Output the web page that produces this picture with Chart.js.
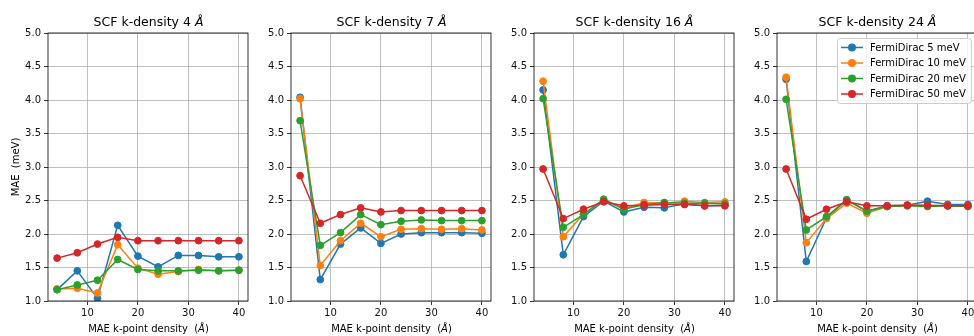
<!DOCTYPE html>
<html>
<head>
<meta charset="utf-8">
<script src="https://cdn.jsdelivr.net/npm/chart.js@4"></script>
<style>
body { margin: 0; background: #fff; font-family: "DejaVu Sans", sans-serif; }
#fig { position: relative; width: 974px; height: 336px; overflow: hidden; }
.panel { position: absolute; top: 0; width: 245px; height: 336px; }
.title { position: absolute; top: 14px; width: 201px; text-align: center; font-size: 12.5px; line-height: 16px; color: #000; white-space: nowrap; }
.xlab { position: absolute; top: 322px; width: 201px; text-align: center; font-size: 10px; line-height: 14px; color: #000; white-space: nowrap; }
#ylab { position: absolute; left: -34px; top: 160px; width: 100px; height: 14px; line-height: 14px; text-align: center; transform: rotate(-90deg); font-size: 10px; color: #000; white-space: nowrap; }
</style>
</head>
<body>
<div id="fig"></div>
<script>
// x positions (MAE k-point density) shared by every panel
const kDensity = [4, 8, 12, 16, 20, 24, 28, 32, 36, 40];
const xTicks = [10, 20, 30, 40];
const smearLabels = ['FermiDirac 5 meV', 'FermiDirac 10 meV', 'FermiDirac 20 meV', 'FermiDirac 50 meV'];
const scfDensities = ['4', '7', '16', '24'];
const colors = ['#1f77b4', '#ff7f0e', '#2ca02c', '#d62728'];

// SCF k-density 4
const scf4_fd5  = [1.17, 1.45, 1.04, 2.13, 1.67, 1.51, 1.68, 1.68, 1.66, 1.66];
const scf4_fd10 = [1.18, 1.19, 1.12, 1.84, 1.49, 1.40, 1.44, 1.47, 1.45, 1.46];
const scf4_fd20 = [1.17, 1.24, 1.31, 1.62, 1.47, 1.45, 1.45, 1.46, 1.45, 1.46];
const scf4_fd50 = [1.64, 1.72, 1.85, 1.95, 1.90, 1.90, 1.90, 1.90, 1.90, 1.90];
// SCF k-density 7
const scf7_fd5  = [4.04, 1.32, 1.85, 2.09, 1.86, 2.00, 2.02, 2.02, 2.02, 2.01];
const scf7_fd10 = [4.02, 1.53, 1.90, 2.16, 1.96, 2.07, 2.08, 2.07, 2.08, 2.06];
const scf7_fd20 = [3.69, 1.83, 2.02, 2.29, 2.14, 2.19, 2.21, 2.20, 2.20, 2.20];
const scf7_fd50 = [2.87, 2.16, 2.29, 2.39, 2.33, 2.35, 2.35, 2.35, 2.35, 2.35];
// SCF k-density 16
const scf16_fd5  = [4.15, 1.69, 2.26, 2.49, 2.33, 2.40, 2.39, 2.45, 2.42, 2.43];
const scf16_fd10 = [4.28, 1.96, 2.30, 2.50, 2.38, 2.47, 2.46, 2.49, 2.47, 2.48];
const scf16_fd20 = [4.02, 2.10, 2.29, 2.52, 2.37, 2.44, 2.47, 2.46, 2.46, 2.45];
const scf16_fd50 = [2.97, 2.23, 2.37, 2.48, 2.42, 2.43, 2.44, 2.44, 2.42, 2.42];
// SCF k-density 24
const scf24_fd5  = [4.31, 1.59, 2.24, 2.51, 2.34, 2.42, 2.43, 2.49, 2.44, 2.44];
const scf24_fd10 = [4.34, 1.87, 2.23, 2.46, 2.31, 2.41, 2.43, 2.42, 2.42, 2.42];
const scf24_fd20 = [4.01, 2.06, 2.26, 2.51, 2.34, 2.41, 2.42, 2.41, 2.42, 2.41];
const scf24_fd50 = [2.97, 2.22, 2.37, 2.48, 2.42, 2.42, 2.43, 2.43, 2.42, 2.42];

const panels = [
    [scf4_fd5, scf4_fd10, scf4_fd20, scf4_fd50],
    [scf7_fd5, scf7_fd10, scf7_fd20, scf7_fd50],
    [scf16_fd5, scf16_fd10, scf16_fd20, scf16_fd50],
    [scf24_fd5, scf24_fd10, scf24_fd20, scf24_fd50],
];

const plotLefts = [48, 291, 534, 777];
const yAxisW = 40;

// full box around the axes, like matplotlib spines
const framePlugin = {
    id: 'frame',
    afterDatasetsDraw(chart) {
        const a = chart.chartArea;
        const ctx = chart.ctx;
        ctx.save();
        ctx.strokeStyle = '#000';
        ctx.lineWidth = 0.8;
        ctx.strokeRect(a.left, a.top, a.right - a.left, a.bottom - a.top);
        ctx.restore();
    }
};

// legend drawn inside the axes (upper right)
const insideLegend = {
    id: 'insideLegend',
    afterDraw(chart, args, opts) {
        if (!opts.show) return;
        const ctx = chart.ctx;
        const a = chart.chartArea;
        const items = chart.data.datasets;
        ctx.save();
        ctx.font = '10px "DejaVu Sans"';
        const textW = Math.max(...items.map(d => ctx.measureText(d.label).width));
        const x0 = a.left + 60, y0 = a.top + 5;
        const w = 33 + textW + 5, h = 65;
        ctx.fillStyle = 'rgba(255,255,255,0.8)';
        ctx.strokeStyle = '#cccccc';
        ctx.lineWidth = 1;
        ctx.beginPath();
        ctx.roundRect(x0 + 0.5, y0 + 0.5, w, h, 3);
        ctx.fill();
        ctx.stroke();
        items.forEach((d, i) => {
            const y = y0 + 9.5 + i * 15.5;
            ctx.strokeStyle = d.borderColor;
            ctx.lineWidth = 1.5;
            ctx.beginPath();
            ctx.moveTo(x0 + 4, y);
            ctx.lineTo(x0 + 26, y);
            ctx.stroke();
            ctx.fillStyle = d.borderColor;
            ctx.beginPath();
            ctx.arc(x0 + 15, y, 4, 0, Math.PI * 2);
            ctx.fill();
            ctx.fillStyle = '#000';
            ctx.textBaseline = 'middle';
            ctx.fillText(d.label, x0 + 33, y + 0.5);
        });
        ctx.restore();
    }
};

const fig = document.getElementById('fig');

panels.forEach((series, p) => {
    const left = plotLefts[p];
    const div = document.createElement('div');
    div.className = 'panel';
    div.style.left = (left - yAxisW) + 'px';
    const canvas = document.createElement('canvas');
    canvas.width = 245;
    canvas.height = 336;
    div.appendChild(canvas);
    fig.appendChild(div);

    const title = document.createElement('div');
    title.className = 'title';
    title.style.left = left + 'px';
    title.innerHTML = `SCF k-density ${scfDensities[p]} <i>Å</i>`;
    fig.appendChild(title);

    const xlab = document.createElement('div');
    xlab.className = 'xlab';
    xlab.style.left = left + 'px';
    xlab.innerHTML = 'MAE k-point density&nbsp;&nbsp;(<i>Å</i>)';
    fig.appendChild(xlab);

    new Chart(canvas.getContext('2d'), {
        type: 'line',
        data: {
            datasets: series.map((vals, i) => ({
                label: smearLabels[i],
                data: vals.map((v, j) => ({ x: kDensity[j], y: v })),
                borderColor: colors[i],
                backgroundColor: colors[i],
                pointBackgroundColor: colors[i],
                pointBorderColor: colors[i],
                borderWidth: 1.5,
                pointRadius: 3.4,
                pointBorderWidth: 1,
                tension: 0,
                order: 3 - i,
            }))
        },
        options: {
            responsive: false,
            animation: false,
            layout: { padding: { top: 33, right: 4, left: 0, bottom: 0 } },
            plugins: {
                legend: { display: false },
                title: { display: false },
                tooltip: { enabled: false },
                insideLegend: { show: p === 3 },
            },
            scales: {
                x: {
                    type: 'linear',
                    min: 2.2,
                    max: 41.8,
                    afterBuildTicks: axis => { axis.ticks = xTicks.map(v => ({ value: v })); },
                    afterFit: s => { s.height = 35; },
                    grid: { color: '#b0b0b0', lineWidth: 0.8, tickColor: '#000', tickLength: 4 },
                    border: { display: false },
                    ticks: { color: '#111', font: { family: 'DejaVu Sans', size: 10 }, padding: 2, maxRotation: 0 },
                },
                y: {
                    min: 1,
                    max: 5,
                    afterFit: s => { s.width = yAxisW; },
                    grid: { color: '#b0b0b0', lineWidth: 0.8, tickColor: '#000', tickLength: 4 },
                    border: { display: false },
                    ticks: {
                        stepSize: 0.5,
                        color: '#111',
                        font: { family: 'DejaVu Sans', size: 10 },
                        padding: 3,
                        callback: v => v.toFixed(1),
                    },
                },
            },
        },
        plugins: [framePlugin, insideLegend],
    });
});

const ylab = document.createElement('div');
ylab.id = 'ylab';
ylab.innerHTML = 'MAE&nbsp;&nbsp;(meV)';
fig.appendChild(ylab);
</script>
</body>
</html>
